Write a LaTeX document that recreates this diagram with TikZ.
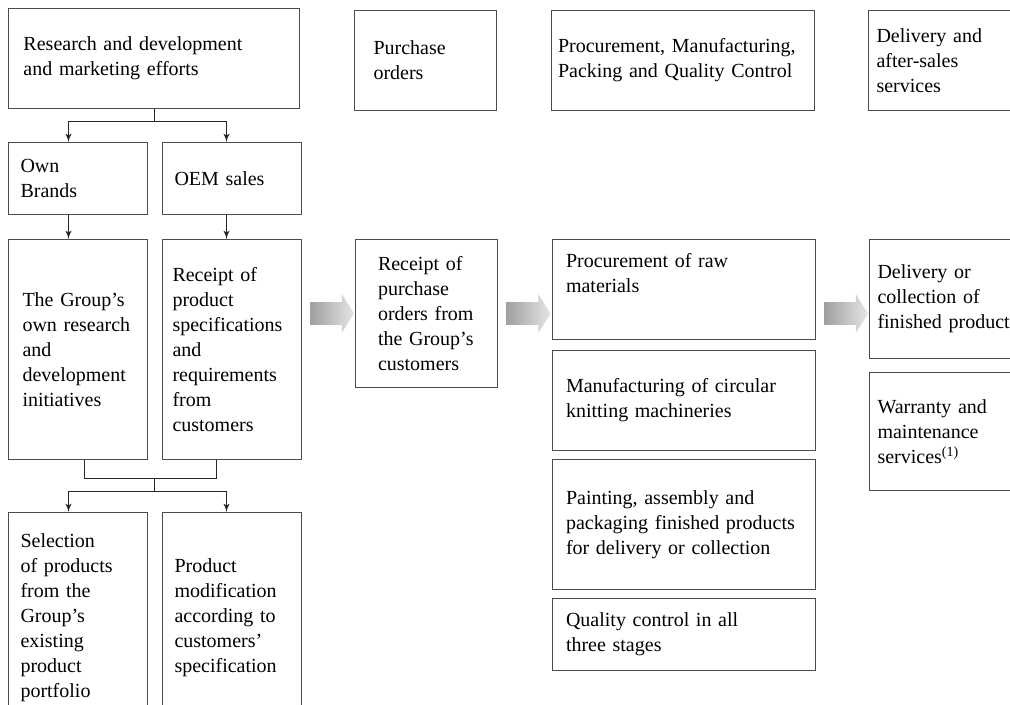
\documentclass[tikz,border=0pt]{standalone}
\usepackage{fontspec}
\setmainfont{Liberation Serif}
\usetikzlibrary{shapes.arrows, arrows, positioning, calc}

\begin{document}
\begin{tikzpicture}[%
  node distance=5pt and 27pt,%
  stagebox/.style={rectangle, draw=black!70, line width=0.5pt, align=left, inner xsep=0pt, inner ysep=2pt, font=\fontsize{10}{12.5}\selectfont},%
  flow/.style={single arrow, draw=none, minimum height=22pt, inner xsep=0pt, inner ysep=5.5pt, single arrow head extend=4pt, single arrow tip angle=115, left color=gray!75, right color=gray!20},%
  myarrow/.style={->, >=latex', line width=0.45pt, draw=black!85},%
  myline/.style={line width=0.45pt, draw=black!85}%
]
  \useasboundingbox (0,0) rectangle (505pt,-352.5pt);
  \clip (0,0) rectangle (505pt,-352.5pt);
  % left part
  \node[stagebox, anchor=north west, minimum width=145.5pt, minimum height=50pt, text width=130.5pt] (rd) at (4pt,-4pt) {Research and development\\and marketing efforts};
  \node[stagebox, below right=16.5pt and 0pt of rd.south west, minimum width=69.5pt, minimum height=36pt, text width=57.5pt] (own) {Own\\Brands};
  \node[stagebox, right=7pt of own, minimum width=69.5pt, minimum height=36pt, text width=57.5pt] (oem) {OEM sales};
  \node[stagebox, below right=12pt and 0pt of own.south west, minimum width=69.5pt, minimum height=110pt, text width=55.5pt] (grp) {The Group's\\own research\\and\\development\\initiatives};
  \node[stagebox, right=7pt of grp, minimum width=69.5pt, minimum height=110pt, text width=59.5pt] (spec) {Receipt of\\product\\specifications\\and\\requirements\\from\\customers};
  \node[stagebox, below right=26pt and 0pt of grp.south west, minimum width=69.5pt, minimum height=105.5pt, text width=57.5pt] (sel) {Selection\\of products\\from the\\Group's\\existing\\product\\portfolio};
  \node[stagebox, right=7pt of sel, minimum width=69.5pt, minimum height=105.5pt, text width=57.5pt] (mod) {Product\\modification\\according to\\customers'\\specification};
  % orders
  \node[stagebox, below right=1pt and 27pt of rd.north east, minimum width=71pt, minimum height=50pt, text width=52pt] (po) {Purchase\\orders};
  \node[stagebox, below right=0pt and 26.5pt of spec.north east, minimum width=71pt, minimum height=74pt, text width=48.5pt] (rcpt) {Receipt of\\purchase\\orders from\\the Group's\\customers};
  % production
  \node[stagebox, right=of po, minimum width=131.5pt, minimum height=50pt, text width=125pt] (proc) {Procurement, Manufacturing,\\Packing and Quality Control};
  \node[stagebox, below right=0pt and 27pt of rcpt.north east, minimum width=131.5pt, minimum height=50pt, text width=118pt] (raw) {Procurement of raw\\materials\\\strut};
  \node[stagebox, below=of raw, minimum width=131.5pt, minimum height=50pt, text width=118pt] (mfg) {Manufacturing of circular\\knitting machineries};
  \node[stagebox, below=4pt of mfg, minimum width=131.5pt, minimum height=65pt, text width=118pt] (paint) {Painting, assembly and\\packaging finished products\\for delivery or collection};
  \node[stagebox, below=4pt of paint, minimum width=131.5pt, minimum height=36pt, text width=118pt] (qc) {Quality control in all\\three stages};
  % delivery
  \node[stagebox, right=26.5pt of proc, minimum width=90pt, minimum height=50pt, text width=82pt] (dlv) {Delivery and\\after-sales\\services};
  \node[stagebox, below right=0pt and 26.5pt of raw.north east, minimum width=90pt, minimum height=59.5pt, text width=82pt] (col) {Delivery or\\collection of\\finished products};
  \node[stagebox, below=6.5pt of col, minimum width=90pt, minimum height=59pt, text width=82pt] (war) {Warranty and\\maintenance\\services\textsuperscript{(1)}};
  % big gray arrows
  \node[flow] (a1) at ($(spec.north east)!.5!(rcpt.north west)+(0,-37.25pt)$) {};
  \node[flow] (a2) at ($(rcpt.north east)!.5!(raw.north west)+(0,-37.25pt)$) {};
  \node[flow] (a3) at ($(raw.north east)!.5!(col.north west)+(0,-37.25pt)$) {};
  % connectors
  \draw[myline] (rd.south) -- ++(0,-6pt) coordinate (j1);
  \draw[myarrow] (j1) -| ([xshift=-4.75pt]own.north);
  \draw[myarrow] (j1) -| ([xshift=-2.75pt]oem.north);
  \draw[myarrow] ([xshift=-4.75pt]own.south) -- ([xshift=-4.75pt]grp.north);
  \draw[myarrow] ([xshift=-2.75pt]oem.south) -- ([xshift=-2.75pt]spec.north);
  \draw[myline] ([xshift=3.25pt]grp.south) -- ++(0,-9pt) -| ([xshift=-7.75pt]spec.south);
  \coordinate (j2) at ($(rd.south |- grp.south)+(0,-9pt)$);
  \draw[myline] (j2) -- ++(0,-6.5pt) coordinate (j3);
  \draw[myarrow] (j3) -| ([xshift=-4.75pt]sel.north);
  \draw[myarrow] (j3) -| ([xshift=-2.75pt]mod.north);
\end{tikzpicture}
\end{document}
